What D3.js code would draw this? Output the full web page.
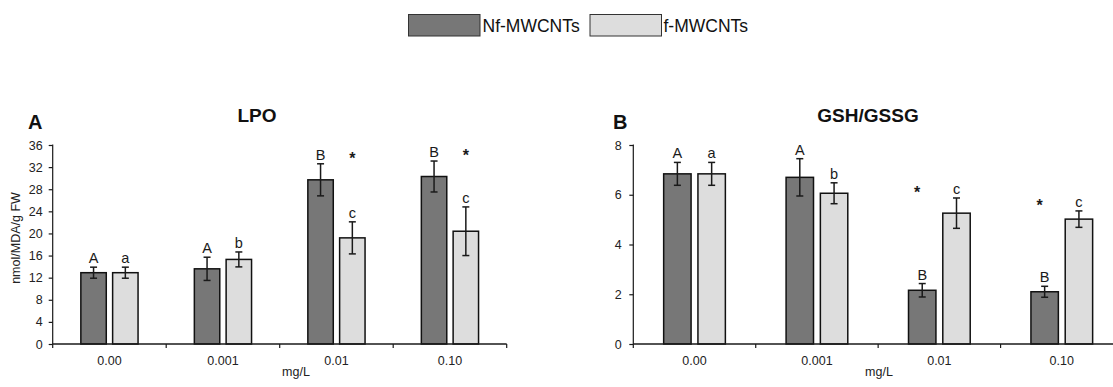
<!DOCTYPE html>
<html>
<head>
<meta charset="utf-8">
<script src="https://cdn.jsdelivr.net/npm/d3@7"></script>
<style>
  html, body { margin: 0; padding: 0; background: #fff; }
  svg { display: block; font-family: 'Liberation Sans', Arial, sans-serif; }
</style>
</head>
<body>
<script>
// data
const concentrations = ['0.00', '0.001', '0.01', '0.10']
const series = ['Nf-MWCNTs', 'f-MWCNTs']

const lpoNf = [12.9, 13.6, 29.7, 30.3]
const lpoNfErr = [1.0, 2.1, 2.9, 2.8]
const lpoF = [12.9, 15.3, 19.2, 20.4]
const lpoFErr = [1.0, 1.35, 2.9, 4.4]
const lpoNfLetters = ['A', 'A', 'B', 'B']
const lpoFLetters = ['a', 'b', 'c', 'c']
const lpoStars = [false, false, true, true]
const lpoTicks = [0, 4, 8, 12, 16, 20, 24, 28, 32, 36]

const gshNf = [6.84, 6.7, 2.16, 2.1]
const gshNfErr = [0.46, 0.75, 0.27, 0.22]
const gshF = [6.84, 6.06, 5.26, 5.02]
const gshFErr = [0.46, 0.42, 0.61, 0.33]
const gshNfLetters = ['A', 'A', 'B', 'B']
const gshFLetters = ['a', 'b', 'c', 'c']
const gshStars = [false, false, true, true]
const gshTicks = [0, 2, 4, 6, 8]

const colors = { 'Nf-MWCNTs': '#777777', 'f-MWCNTs': '#dddddd' }

const panels = [
  {
    letter: 'A', title: 'LPO', titleX: 257, letterX: 28,
    left: 52.7, right: 506.7, yMax: 36, ticks: lpoTicks, tickPad: 6,
    yLabel: 'nmol/MDA/g FW', xLabelX: 296,
    values: [lpoNf, lpoF], errs: [lpoNfErr, lpoFErr],
    letters: [lpoNfLetters, lpoFLetters], stars: lpoStars,
    starOn: 1, starDx: 0
  },
  {
    letter: 'B', title: 'GSH/GSSG', titleX: 868, letterX: 613,
    left: 633.3, right: 1123, yMax: 8, ticks: gshTicks, tickPad: 7.5,
    yLabel: null, xLabelX: 879,
    values: [gshNf, gshF], errs: [gshNfErr, gshFErr],
    letters: [gshNfLetters, gshFLetters], stars: gshStars,
    starOn: 0, starDx: -5
  }
]

const plotTop = 145, plotBottom = 344
const ink = '#1a1a1a'

const svg = d3.select('body').append('svg')
  .attr('width', 1113).attr('height', 387)

// legend
const legend = svg.append('g')
const legendPos = [{ x: 408.5, tx: 482.5 }, { x: 590, tx: 663.5 }]
series.forEach((s, i) => {
  legend.append('rect')
    .attr('x', legendPos[i].x).attr('y', 14.5)
    .attr('width', 71.5).attr('height', 21.5)
    .attr('fill', colors[s]).attr('stroke', '#333').attr('stroke-width', 1)
  legend.append('text')
    .attr('x', legendPos[i].tx).attr('y', 32)
    .attr('font-size', 17.5).attr('fill', '#111')
    .text(s)
})

panels.forEach(p => {
  const g = svg.append('g')

  const x0 = d3.scaleBand().domain(concentrations).range([p.left, p.right])
  const bw = x0.bandwidth()
  const x1 = d3.scaleBand().domain(series)
    .range([0.248 * bw, 0.752 * bw]).paddingInner(0.2)
  const y = d3.scaleLinear().domain([0, p.yMax]).range([plotBottom, plotTop])

  // bars, error bars and letters
  const rows = []
  series.forEach((s, si) => {
    concentrations.forEach((c, ci) => {
      rows.push({
        s, si, c, ci,
        v: p.values[si][ci],
        e: p.errs[si][ci],
        lab: p.letters[si][ci]
      })
    })
  })
  const cx = d => x0(d.c) + x1(d.s) + x1.bandwidth() / 2
  const labelY = d => y(d.v + d.e) - 4

  g.selectAll('rect.bar').data(rows).join('rect')
    .attr('class', 'bar')
    .attr('x', d => x0(d.c) + x1(d.s))
    .attr('y', d => y(d.v))
    .attr('width', x1.bandwidth())
    .attr('height', d => y(0) - y(d.v))
    .attr('fill', d => colors[d.s])
    .attr('stroke', '#111').attr('stroke-width', 1.5)

  const eb = g.append('g').attr('stroke', ink).attr('stroke-width', 1.5)
  eb.selectAll('line.v').data(rows).join('line')
    .attr('x1', cx).attr('x2', cx)
    .attr('y1', d => y(d.v + d.e)).attr('y2', d => y(d.v - d.e))
  eb.selectAll('line.t').data(rows).join('line')
    .attr('x1', d => cx(d) - 3.5).attr('x2', d => cx(d) + 3.5)
    .attr('y1', d => y(d.v + d.e)).attr('y2', d => y(d.v + d.e))
  eb.selectAll('line.b').data(rows).join('line')
    .attr('x1', d => cx(d) - 3.5).attr('x2', d => cx(d) + 3.5)
    .attr('y1', d => y(d.v - d.e)).attr('y2', d => y(d.v - d.e))

  g.selectAll('text.lab').data(rows).join('text')
    .attr('class', 'lab')
    .attr('x', cx).attr('y', labelY)
    .attr('text-anchor', 'middle').attr('font-size', 14.5).attr('fill', ink)
    .text(d => d.lab)

  // asterisks: over one series, level with the other series' letter
  const starRows = concentrations
    .map((c, ci) => ({ c, ci }))
    .filter(d => p.stars[d.ci])
    .map(d => ({
      on: rows.find(r => r.si === p.starOn && r.ci === d.ci),
      other: rows.find(r => r.si !== p.starOn && r.ci === d.ci)
    }))
  g.selectAll('text.star').data(starRows).join('text')
    .attr('class', 'star')
    .attr('x', d => cx(d.on) + p.starDx)
    .attr('y', d => labelY(d.other) + 4)
    .attr('text-anchor', 'middle').attr('font-size', 16).attr('font-weight', 'bold')
    .attr('fill', ink)
    .text('*')

  // axes
  const yAxis = d3.axisLeft(y).tickValues(p.ticks).tickSize(4).tickPadding(p.tickPad)
    .tickFormat(d3.format('d'))
  g.append('g').attr('transform', `translate(${p.left},0)`).call(yAxis)
    .call(a => {
      a.select('.domain').attr('d', `M-0.5,${plotTop}H0V${plotBottom}`)
      a.selectAll('path, line').attr('stroke', ink).attr('stroke-width', 1.2)
      a.selectAll('text').attr('font-size', 12.5).attr('fill', '#222')
        .attr('font-family', 'Liberation Sans, Arial, sans-serif')
    })

  const xg = g.append('g').attr('transform', `translate(0,${plotBottom})`)
  xg.append('line').attr('x1', p.left).attr('x2', p.right)
    .attr('stroke', ink).attr('stroke-width', 1.3)
  const bounds = concentrations.map(c => x0(c)).concat([p.right])
  xg.selectAll('line.tk').data(bounds).join('line')
    .attr('class', 'tk')
    .attr('x1', d => d).attr('x2', d => d).attr('y1', 0).attr('y2', 4)
    .attr('stroke', ink).attr('stroke-width', 1.2)
  xg.selectAll('text').data(concentrations).join('text')
    .attr('x', d => x0(d) + bw / 2).attr('y', 21)
    .attr('text-anchor', 'middle').attr('font-size', 12.5).attr('fill', '#222')
    .text(d => d)

  g.append('text').attr('x', p.xLabelX).attr('y', 376)
    .attr('text-anchor', 'middle').attr('font-size', 12.5).attr('fill', '#222')
    .text('mg/L')

  if (p.yLabel) {
    g.append('text')
      .attr('transform', `translate(20,238) rotate(-90)`)
      .attr('text-anchor', 'middle').attr('font-size', 12.5).attr('fill', '#222')
      .text(p.yLabel)
  }

  g.append('text').attr('x', p.titleX).attr('y', 121.5)
    .attr('text-anchor', 'middle').attr('font-size', 19).attr('font-weight', 'bold')
    .attr('fill', '#111')
    .text(p.title)
  g.append('text').attr('x', p.letterX).attr('y', 128.5)
    .attr('font-size', 20).attr('font-weight', 'bold').attr('fill', '#111')
    .text(p.letter)
})
</script>
</body>
</html>
